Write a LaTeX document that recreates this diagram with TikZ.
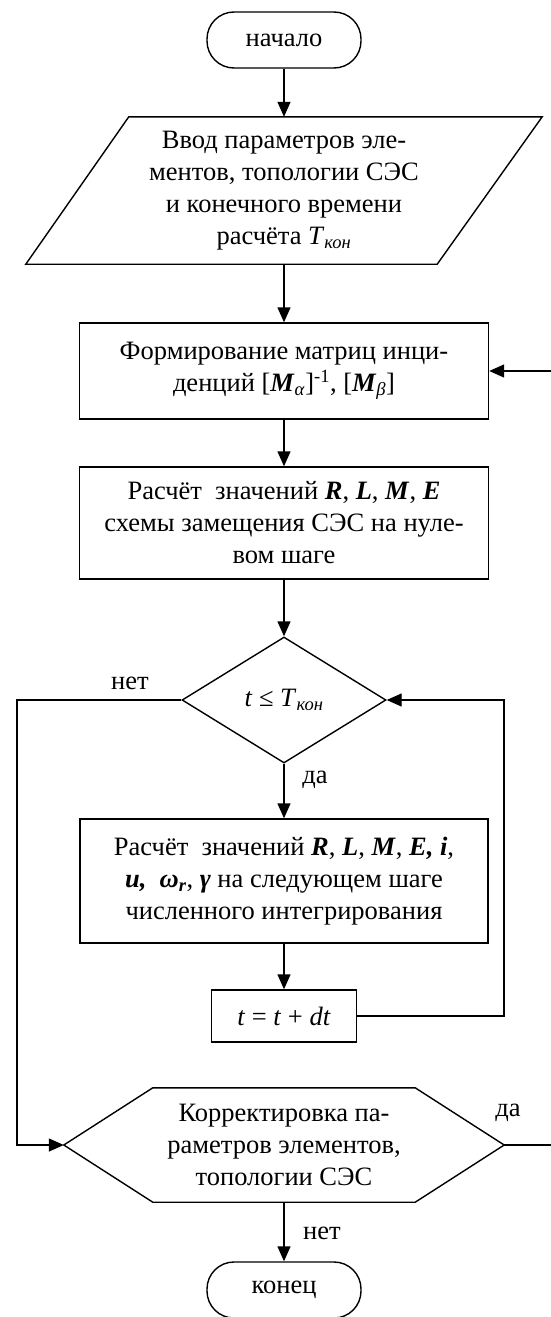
\documentclass[tikz,border=0pt]{standalone}
\usepackage{fontspec}
\setmainfont{Liberation Serif}
\usetikzlibrary{shapes.geometric,arrows.meta}
\newcommand{\bi}[1]{\textbf{\textit{#1}}}
\begin{document}
\begin{tikzpicture}[x=1pt,y=-1pt,
  every node/.style={font=\fontsize{26.5}{32}\selectfont, align=center, inner sep=0pt},
  ln/.style={line width=1.4pt},
  arr/.style={line width=1.4pt,-{Triangle[length=15pt,width=13pt]}},
  term/.style={draw,line width=1.4pt,rounded corners=27pt,minimum width=154pt,minimum height=56pt},
  procbox/.style={draw,line width=1.4pt}]
\clip (0,0) rectangle (551,1317);
\fill[white] (0,0) rectangle (551,1317);
\coordinate (lft) at (17,0);
\coordinate (rgt) at (504,0);
\coordinate (far) at (560,0);

\node[term] (start) at (284,40) {начало};

\node[minimum width=516pt, minimum height=147pt] (inp) at (284,190.5)
  {Ввод параметров эле-\\ментов, топологии СЭС\\и конечного времени\\расчёта \textit{T}\textsubscript{\textit{кон}}};
\draw[ln] ([xshift=103pt]inp.north west) -- (inp.north east)
  -- ([xshift=-105pt]inp.south east) -- (inp.south west) -- cycle;

\node[procbox, minimum width=409pt, minimum height=96pt] (b1) at (284,371)
  {Формирование матриц инци-\\денций [\bi{M}\textsubscript{\textit{α}}]\textsuperscript{-1}, [\bi{M}\textsubscript{\textit{β}}]};

\node[procbox, minimum width=409pt, minimum height=112pt] (b2) at (284,523)
  {Расчёт\ \ значений \bi{R}, \bi{L}, \bi{M}, \bi{E}\\схемы замещения СЭС на нуле-\\вом шаге};

\node[draw, diamond, line width=1.4pt, minimum width=204pt, minimum height=126pt] (dia) at (284,700)
  {\textit{t} ≤ \textit{T}\textsubscript{\textit{кон}}};

\node[procbox, minimum width=408pt, minimum height=124pt] (b3) at (284,881)
  {Расчёт\ \ значений \bi{R}, \bi{L}, \bi{M}, \bi{E, i},\\\bi{u,}\ \ \bi{ω\textsubscript{r}}, \bi{γ} на следующем шаге\\численного интегрирования};

\node[procbox, minimum width=145pt, minimum height=52pt] (b4) at (284,1016)
  {\textit{t} = \textit{t} + \textit{dt}};

\node[minimum width=440pt, minimum height=114pt] (hx) at (284,1145)
  {Корректировка па-\\раметров элементов,\\топологии СЭС};
\draw[ln] (hx.west) -- ([xshift=89pt]hx.north west) -- ([xshift=-89pt]hx.north east)
  -- (hx.east) -- ([xshift=-89pt]hx.south east) -- ([xshift=89pt]hx.south west) -- cycle;

\node[term] (fin) at (284,1290) {конец};

\node (l1) at (130,683) {нет};
\node (l2) at (315,780) {да};
\node (l3) at (508,1113) {да};
\node (l4) at (322,1233) {нет};

\draw[arr] (start.south) -- (inp.north);
\draw[arr] (inp.south) -- (b1.north);
\draw[arr] (b1.south) -- (b2.north);
\draw[arr] (b2.south) -- (dia.north);
\draw[arr] (dia.south) -- (b3.north);
\draw[arr] (b3.south) -- (b4.north);
\draw[arr] (b4.east) -- (b4.east -| rgt) |- (dia.east);
\draw[arr] (dia.west) -- (dia.west -| lft) |- (hx.west);
\draw[arr] (hx.east) -- (hx.east -| far) |- (b1.east);
\draw[arr] (hx.south) -- (fin.north);
\end{tikzpicture}
\end{document}
